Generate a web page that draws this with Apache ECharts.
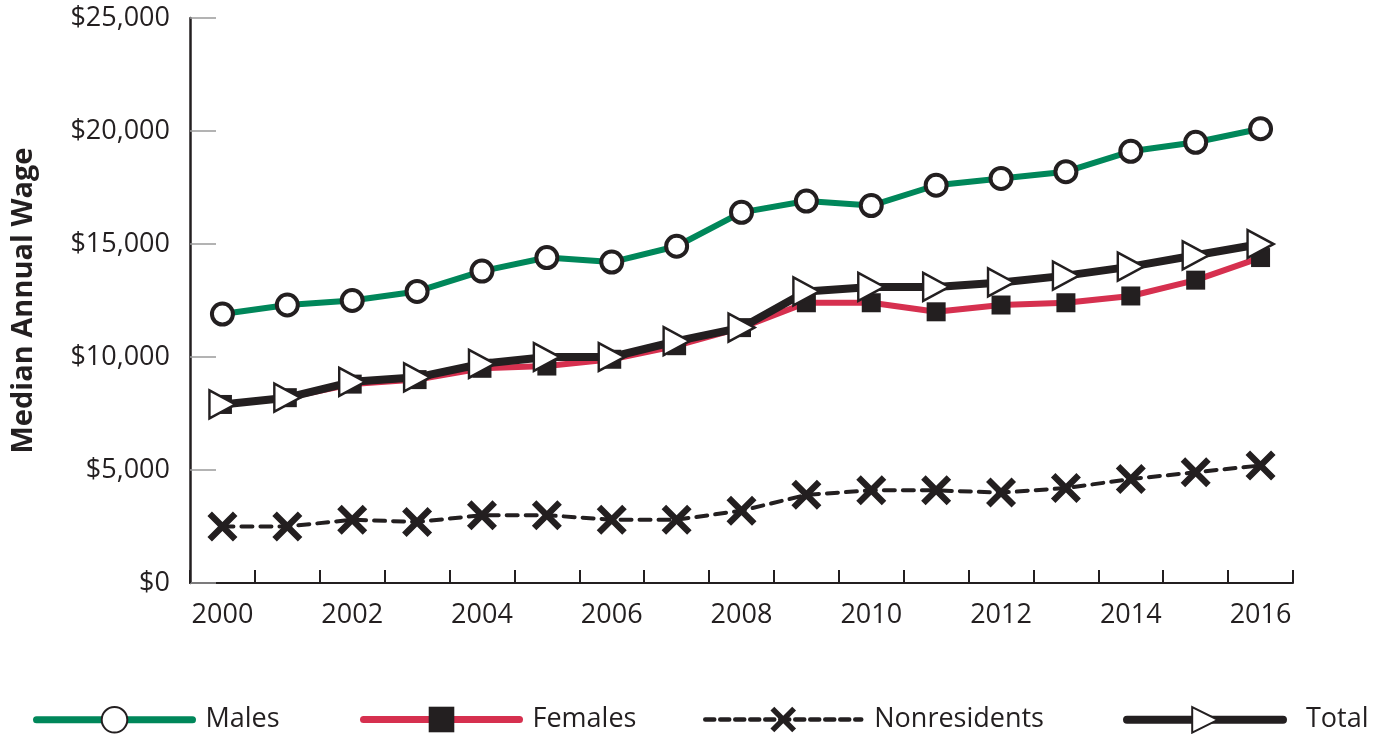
<!DOCTYPE html>
<html>
<head>
<meta charset="utf-8">
<script src="https://cdn.jsdelivr.net/npm/echarts@6/dist/echarts.min.js"></script>
<style>
html,body{margin:0;padding:0;background:#fff;}
#chart{width:1382px;height:734px;}
</style>
</head>
<body>
<div id="chart"></div>
<script>
const years = ['2000','2001','2002','2003','2004','2005','2006','2007','2008','2009','2010','2011','2012','2013','2014','2015','2016'];
const males = [11900,12300,12500,12900,13800,14400,14200,14900,16400,16900,16700,17600,17900,18200,19100,19500,20100];
const females = [7900,8200,8800,9000,9500,9600,9900,10500,11300,12400,12400,12000,12300,12400,12700,13400,14400];
const nonresidents = [2500,2500,2800,2700,3000,3000,2800,2800,3200,3900,4100,4100,4000,4200,4600,4900,5200];
const total = [7900,8200,8900,9100,9700,10000,10000,10700,11300,12900,13100,13100,13300,13600,14000,14500,15000];
const yTicks = [0,5000,10000,15000,20000,25000];

const FONT = 'Open Sans';
const DARK = '#231F20';
const GREEN = '#00875A';
const RED = '#D6304F';
const crossPath = 'path://M3,0 L10,7 L17,0 L20,3 L13,10 L20,17 L17,20 L10,13 L3,20 L0,17 L7,10 L0,3 Z';

const chart = echarts.init(document.getElementById('chart'), null, {renderer:'canvas'});
function legend(name, left, lineStyle, textPad){
  return {
    data:[name], left:left, top:701, itemWidth:156, itemHeight:32, itemGap:0,
    lineStyle:lineStyle,
    textStyle:{fontFamily:FONT, fontSize:27, color:DARK, padding:[0,0,0,textPad]},
    selectedMode:false
  };
}
chart.setOption({
  animation:false,
  backgroundColor:'#fff',
  grid:{left:190, right:89, top:18, bottom:151, containLabel:false},
  legend:[
    legend('Males',28,{color:GREEN,width:7,cap:'round'},8),
    legend('Females',355,{color:RED,width:7,cap:'round'},8),
    legend('Nonresidents',698,{color:DARK,width:4.5,type:[9,6],cap:'round'},8),
    legend('Total',1118,{color:DARK,width:8,cap:'round'},18)
  ],
  xAxis:{
    type:'category', data:years, boundaryGap:true,
    axisLine:{lineStyle:{color:DARK, width:2}},
    axisTick:{show:true, inside:true, length:13, interval:0, lineStyle:{color:DARK, width:2}},
    axisLabel:{interval:1, margin:19, fontFamily:FONT, fontSize:27, color:DARK},
    splitLine:{show:false}
  },
  yAxis:{
    type:'value', min:0, max:25000, interval:5000,
    name:'Median Annual Wage', nameLocation:'middle', nameGap:152, nameRotate:90,
    nameTextStyle:{fontFamily:FONT, fontWeight:'bold', fontSize:29, color:DARK},
    axisLine:{show:true, lineStyle:{color:DARK, width:2.5}},
    axisTick:{show:true, inside:true, length:26, lineStyle:{color:'#9a9a9a', width:1.5}},
    axisLabel:{margin:20, fontFamily:FONT, fontSize:27, color:DARK,
      formatter:v=>'$'+v.toLocaleString('en-US')},
    splitLine:{show:false}
  },
  series:[
    {name:'Males', type:'line', data:males, z:2,
      lineStyle:{color:GREEN, width:6, cap:'round'}, itemStyle:{color:'#fff', borderColor:DARK, borderWidth:4},
      symbol:'circle', symbolSize:21, showAllSymbol:true},
    {name:'Females', type:'line', data:females, z:3,
      lineStyle:{color:RED, width:6, cap:'round'}, itemStyle:{color:DARK, borderColor:DARK, borderWidth:0},
      symbol:'rect', symbolSize:19, showAllSymbol:true},
    {name:'Nonresidents', type:'line', data:nonresidents, z:4,
      lineStyle:{color:DARK, width:4, type:[11,8], cap:'round'}, itemStyle:{color:DARK, borderWidth:0},
      symbol:crossPath, symbolSize:30, showAllSymbol:true},
    {name:'Total', type:'line', data:total, z:5,
      lineStyle:{color:DARK, width:8, cap:'round'}, itemStyle:{color:'#fff', borderColor:DARK, borderWidth:2.5},
      symbol:'triangle', symbolRotate:-90, symbolSize:[28,26], showAllSymbol:true}
  ]
});
</script>
</body>
</html>
